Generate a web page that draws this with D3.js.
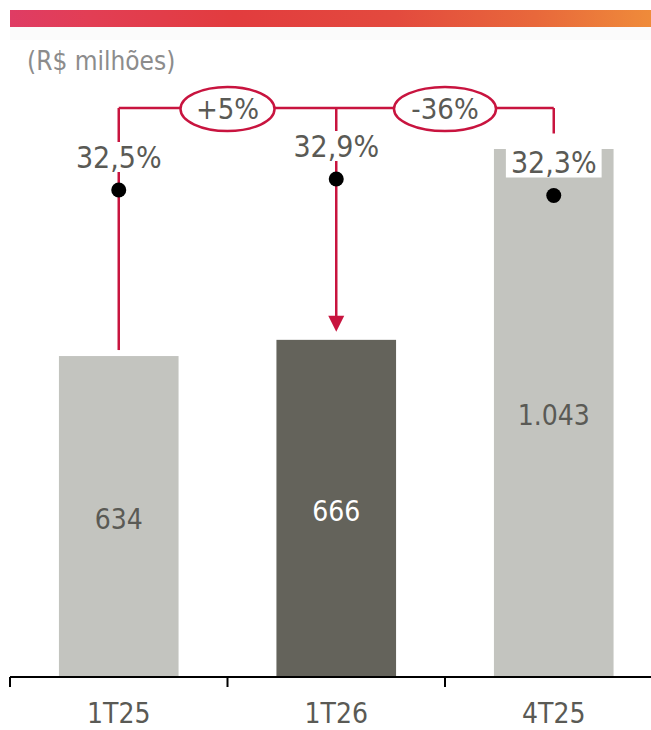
<!DOCTYPE html>
<html>
<head>
<meta charset="utf-8">
<script src="https://cdn.jsdelivr.net/npm/d3@7"></script>
<style>
  html, body { margin: 0; padding: 0; background: #fff; }
  svg { display: block; }
</style>
</head>
<body>
<script>
const categories = ["1T25", "1T26", "4T25"];
const values = [634, 666, 1043];
const valueLabels = ["634", "666", "1.043"];
const margins = [32.5, 32.9, 32.3];
const marginLabels = ["32,5%", "32,9%", "32,3%"];
const changes = ["+5%", "-36%"];
const unitLabel = "(R$ milhões)";

const width = 651, height = 730;
const font = "'DejaVu Sans Condensed', 'DejaVu Sans', sans-serif";
const red = "#c8143f";
const textGray = "#5a5a55";

const svg = d3.select("body").append("svg")
  .attr("width", width)
  .attr("height", height)
  .attr("font-family", font);

// header band
const grad = svg.append("defs").append("linearGradient")
  .attr("id", "hdr")
  .attr("x1", "0%").attr("x2", "100%");
[
  [0, "#df3c64"], [0.12, "#e23e55"], [0.35, "#e23c3e"],
  [0.6, "#e34a3e"], [0.82, "#e8683b"], [1, "#ef8b3a"]
].forEach(([o, c]) => grad.append("stop").attr("offset", o).attr("stop-color", c));

svg.append("rect")
  .attr("x", 10).attr("y", 10)
  .attr("width", width - 10).attr("height", 17)
  .attr("fill", "url(#hdr)");

svg.append("rect")
  .attr("x", 10).attr("y", 27)
  .attr("width", width - 10).attr("height", 13)
  .attr("fill", "#fbfbfb");

svg.append("text")
  .attr("x", 27).attr("y", 70)
  .attr("font-size", 26)
  .attr("fill", "#8c8c8c")
  .text(unitLabel);

// scales
const x = d3.scaleBand()
  .domain(categories)
  .range([10, 662.5])
  .paddingInner(0.45)
  .paddingOuter(0.225);

const y = d3.scaleLinear()
  .domain([0, 1043])
  .range([677, 149]);

const yM = d3.scaleLinear()
  .domain([32.3, 32.9])
  .range([195.5, 179]);

const cx = (c) => x(c) + x.bandwidth() / 2;
const bracketY = 108;

// bars
svg.append("g")
  .selectAll("rect")
  .data(categories)
  .join("rect")
  .attr("x", (d) => x(d))
  .attr("y", (d, i) => y(values[i]))
  .attr("width", x.bandwidth())
  .attr("height", (d, i) => y(0) - y(values[i]))
  .attr("fill", (d, i) => (i === 1 ? "#64635b" : "#c3c4bf"));

svg.append("g")
  .selectAll("text")
  .data(categories)
  .join("text")
  .attr("x", cx)
  .attr("y", (d, i) => (y(values[i]) + y(0)) / 2 + 2)
  .attr("dy", "0.36em")
  .attr("text-anchor", "middle")
  .attr("font-size", 28)
  .attr("fill", (d, i) => (i === 1 ? "#ffffff" : textGray))
  .text((d, i) => valueLabels[i]);

// axis
const axisG = svg.append("g").attr("transform", `translate(0,${y(0)})`);
axisG.append("line")
  .attr("x1", 10).attr("x2", width)
  .attr("stroke", "#000").attr("stroke-width", 2);
axisG.selectAll(".tk")
  .data(categories)
  .join("line")
  .attr("class", "tk")
  .attr("x1", (d) => x(d) - (x.step() * x.paddingInner()) / 2)
  .attr("x2", (d) => x(d) - (x.step() * x.paddingInner()) / 2)
  .attr("y1", 0).attr("y2", 10)
  .attr("stroke", "#000").attr("stroke-width", 2);

const axis = svg.append("g")
  .attr("transform", `translate(0,${y(0)})`)
  .call(d3.axisBottom(x).tickSize(0).tickPadding(38));
axis.select(".domain").remove();
axis.selectAll("text")
  .attr("font-family", font)
  .attr("font-size", 28)
  .attr("fill", textGray)
  .attr("dy", "0.3em");

// connectors
const conn = svg.append("g")
  .attr("stroke", red)
  .attr("stroke-width", 2.5)
  .attr("fill", "none");

conn.append("line")
  .attr("x1", cx(categories[0])).attr("x2", cx(categories[2]))
  .attr("y1", bracketY).attr("y2", bracketY);

conn.append("line")
  .attr("x1", cx(categories[0])).attr("x2", cx(categories[0]))
  .attr("y1", bracketY).attr("y2", y(values[0]) - 6);

conn.append("line")
  .attr("x1", cx(categories[1])).attr("x2", cx(categories[1]))
  .attr("y1", bracketY).attr("y2", y(values[1]) - 22);

conn.append("line")
  .attr("x1", cx(categories[2])).attr("x2", cx(categories[2]))
  .attr("y1", bracketY).attr("y2", yM(margins[2]) - 62);

const ax = cx(categories[1]), ay = y(values[1]) - 8;
svg.append("path")
  .attr("d", `M${ax - 8},${ay - 16}L${ax + 8},${ay - 16}L${ax},${ay}Z`)
  .attr("fill", red);

// change ellipses
const ell = svg.append("g")
  .selectAll("g")
  .data(changes)
  .join("g")
  .attr("transform", (d, i) =>
    `translate(${(cx(categories[i]) + cx(categories[i + 1])) / 2},${bracketY + 1})`);

ell.append("ellipse")
  .attr("rx", (d, i) => (i === 0 ? 47 : 51))
  .attr("ry", 22)
  .attr("fill", "#fff")
  .attr("stroke", red)
  .attr("stroke-width", 2.5);

ell.append("text")
  .attr("text-anchor", "middle")
  .attr("dy", "0.36em")
  .attr("font-size", 29)
  .attr("fill", textGray)
  .text((d) => d);

// margin labels and dots
const ml = svg.append("g")
  .selectAll("g")
  .data(categories)
  .join("g")
  .attr("transform", (d, i) => `translate(${cx(d)},${yM(margins[i]) - 33})`);

ml.append("text")
  .attr("text-anchor", "middle")
  .attr("dy", "0.36em")
  .attr("font-size", 30)
  .attr("fill", textGray)
  .text((d, i) => marginLabels[i])
  .each(function () {
    const b = this.getBBox();
    d3.select(this.parentNode).insert("rect", "text")
      .attr("x", b.x - 5).attr("y", -15)
      .attr("width", b.width + 10).attr("height", 30)
      .attr("fill", "#fff");
  });

svg.append("g")
  .selectAll("circle")
  .data(categories)
  .join("circle")
  .attr("cx", cx)
  .attr("cy", (d, i) => yM(margins[i]))
  .attr("r", 7.5)
  .attr("fill", "#000");
</script>
</body>
</html>
